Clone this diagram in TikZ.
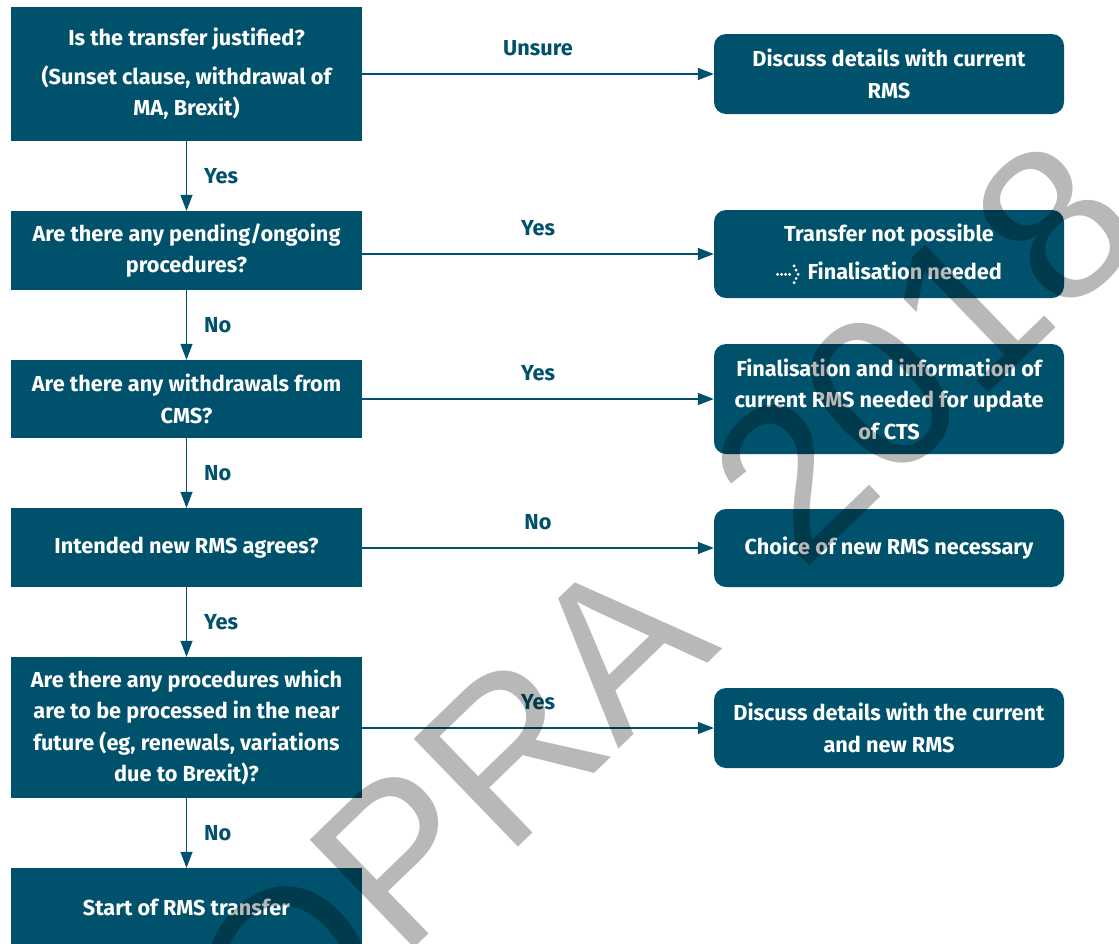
\documentclass[tikz,border=0pt]{standalone}
\usepackage{fontspec}
\setmainfont{Fira Sans}
\newfontfamily\wmfont{Liberation Sans}
\usetikzlibrary{arrows.meta,positioning}
\definecolor{emateal}{RGB}{0,81,107}

% small dotted arrow in front of a line of text
\newcommand{\dotarrow}{\tikz[baseline=-5.5pt, x=1pt, y=1pt]{%
  \foreach \dx in {0,4,8,12} \fill[white] (\dx,0) circle (1.6);
  \foreach \pos in {(16.5,8.4),(18.5,4.2),(20.5,0),(18.5,-4.2),(16.5,-8.4)} \fill[white] \pos circle (1.6);}}

\begin{document}
\begin{tikzpicture}[x=1pt, y=-1pt,
  question/.style={fill=emateal, text=white, font=\fontsize{21.7}{31.5}\selectfont\bfseries,
                   align=center, minimum width=351pt, inner sep=0pt},
  outcome/.style={fill=emateal, text=white, rounded corners=12pt, font=\fontsize{21.7}{31.5}\selectfont\bfseries,
                  align=center, minimum width=350pt, inner sep=0pt},
  flow/.style={draw=emateal, line width=1.3pt, -{Triangle[length=16pt, width=12pt]}},
  answer/.style={text=emateal, font=\fontsize{21.7}{26}\selectfont\bfseries, inner sep=0pt},
  watermark/.style={text=black, text opacity=0.28, font=\wmfont\fontsize{218}{218}\selectfont, inner sep=0pt}]

\fill[white] (0,0) rectangle (1119,943);
\useasboundingbox (0,0) rectangle (1119,943);

% Questions (left column)
\node[question, minimum height=134pt] (q1) at (186.5,74)
     {Is the transfer justified?\\[7pt](Sunset clause, withdrawal of\\MA, Brexit)};
\node[question, minimum height=79pt] (q2) at (186.5,250.5)
     {Are there any pending/ongoing\\procedures?};
\node[question, minimum height=78pt] (q3) at (186.5,399)
     {Are there any withdrawals from\\CMS?};
\node[question, minimum height=79pt] (q4) at (186.5,547.5)
     {Intended new RMS agrees?};
\node[question, minimum height=141pt] (q5) at (186.5,727.5)
     {Are there any procedures which\\are to be processed in the near\\future (eg, renewals, variations\\due to Brexit)?};
\node[question, minimum height=79pt] (q6) at (186.5,907.5)
     {Start of RMS transfer};

% Outcomes (right column)
\node[outcome, minimum height=80pt] (r1) at (889,74)
     {Discuss details with current\\RMS};
\node[outcome, minimum height=88pt] (r2) at (889,254)
     {Transfer not possible\\[7pt]\dotarrow\hspace{8pt}Finalisation needed};
\node[outcome, minimum height=110pt] (r3) at (889,399)
     {Finalisation and information of\\current RMS needed for update\\of CTS};
\node[outcome, minimum height=78pt] (r4) at (889,548)
     {Choice of new RMS necessary};
\node[outcome, minimum height=80pt] (r5) at (889,728)
     {Discuss details with the current\\and new RMS};

% Downward arrows
\draw[flow] (q1) -- (q2) node[answer, midway, right=17pt] {Yes};
\draw[flow] (q2) -- (q3) node[answer, midway, right=17pt] {No};
\draw[flow] (q3) -- (q4) node[answer, midway, right=17pt] {No};
\draw[flow] (q4) -- (q5) node[answer, midway, right=17pt] {Yes};
\draw[flow] (q5) -- (q6) node[answer, midway, right=17pt] {No};

% Arrows to the right
\draw[flow] (q1.east |- r1.west) -- (r1.west) node[answer, midway, above=17pt] {Unsure};
\draw[flow] (q2.east |- r2.west) -- (r2.west) node[answer, midway, above=17pt] {Yes};
\draw[flow] (q3.east |- r3.west) -- (r3.west) node[answer, midway, above=17pt] {Yes};
\draw[flow] (q4.east |- r4.west) -- (r4.west) node[answer, midway, above=17pt] {No};
\draw[flow] (q5.east |- r5.west) -- (r5.west) node[answer, midway, above=17pt] {Yes};

% Watermark
\node[watermark, rotate=44, anchor=base west] (wm) at (186,1168) {TOPRA\hspace{0.5em}2018};

\end{tikzpicture}
\end{document}
